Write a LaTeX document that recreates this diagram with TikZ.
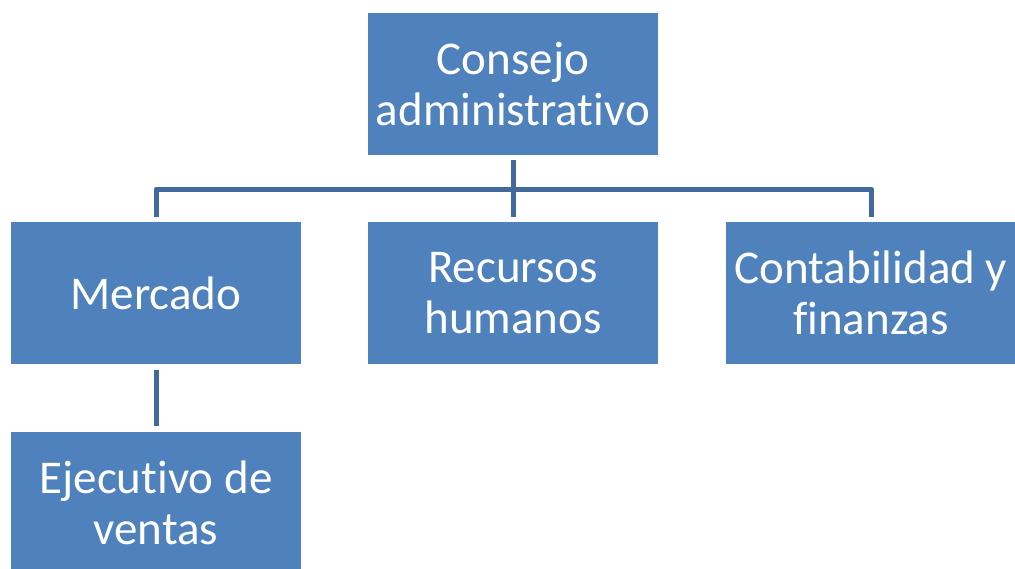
\documentclass[tikz,border=0pt]{standalone}
\usepackage{fontspec}
\setmainfont{Carlito}[RawFeature={-liga;-dlig}]
\definecolor{boxblue}{HTML}{4F81BD}
\definecolor{lineblue}{HTML}{41699C}
\begin{document}
\begin{tikzpicture}[x=1pt,y=-1pt,
  orgbox/.style={fill=boxblue, draw=none, minimum width=290pt, minimum height=142pt,
    inner sep=0pt, text=white, align=center,
    font=\fontsize{47}{51}\selectfont},
  conn/.style={draw=lineblue, line width=5pt, line join=round}]
\useasboundingbox (0,0) rectangle (1015,568);
\clip (0,0) rectangle (1015,568);
\fill[white] (0,0) rectangle (1015,568);
\node[orgbox] (top) at (513,84) {Consejo\\administrativo};
\node[orgbox] (merc) at (156,293) {Mercado};
\node[orgbox] (rh) at (513,293) {Recursos\\humanos};
\node[orgbox] (cont) at (871,293) {Contabilidad y\\finanzas};
\node[orgbox] (ejec) at (156,503) {Ejecutivo de\\ventas};
\coordinate (bar) at (513,189);
\draw[conn] ([yshift=-5pt]top.south) -- ([yshift=5pt]rh.north);
\draw[conn] ([yshift=5pt]merc.north) |- (bar) -| ([yshift=5pt]cont.north);
\draw[conn] ([yshift=-6pt]merc.south) -- ([yshift=6pt]ejec.north);
\end{tikzpicture}
\end{document}
